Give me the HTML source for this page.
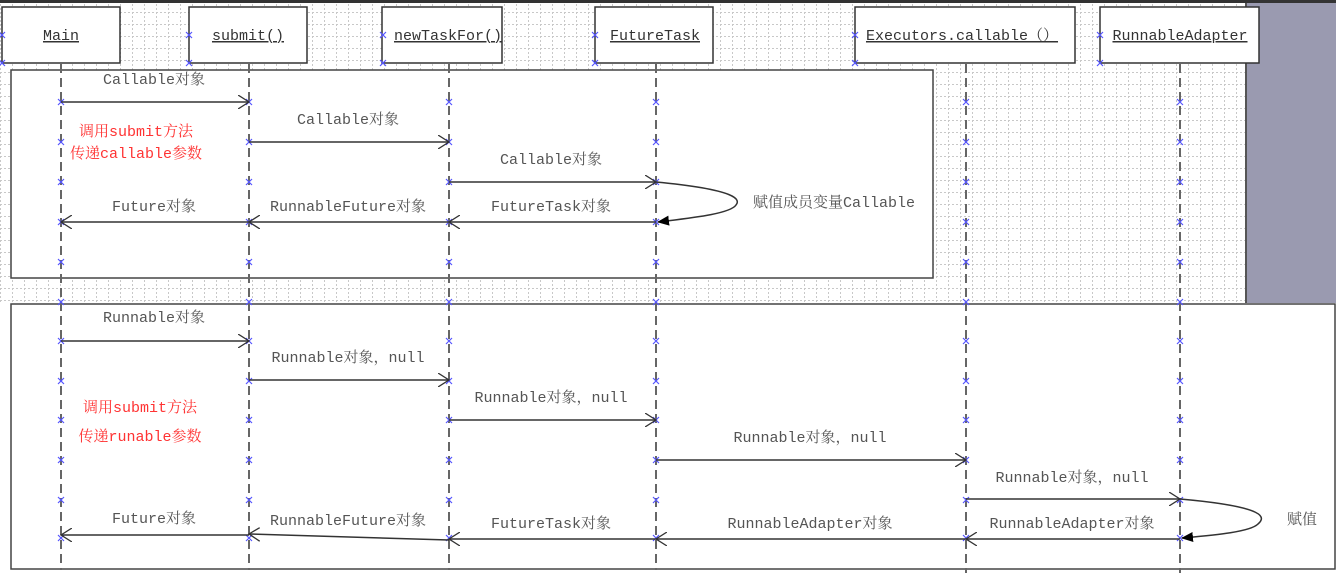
<!DOCTYPE html>
<html><head><meta charset="utf-8"><style>
html,body{margin:0;padding:0;background:#fff}
svg{display:block}
text{font-family:"Liberation Mono","Noto Serif CJK SC",monospace;font-size:15px;fill:#555}
.h{fill:#333;text-decoration:underline}
.r{fill:#f33}
</style></head><body>
<svg width="1336" height="573" viewBox="0 0 1336 573" xmlns="http://www.w3.org/2000/svg">
<defs>
<pattern id="g" width="12" height="12" patternUnits="userSpaceOnUse">
<path d="M0 0.5H12M0.5 0V12" stroke="#c8c8c8" stroke-width="1" stroke-dasharray="2,2" fill="none"/>
</pattern>
<g id="x"><path d="M-3 -3L3 3M3 -3L-3 3" stroke="#55f" stroke-width="1.2"/></g>
<marker id="oa" markerWidth="12" markerHeight="14" refX="11" refY="7" orient="auto" markerUnits="userSpaceOnUse"><path d="M0 0L11 7L0 14" fill="none" stroke="#333" stroke-width="1.3"/></marker>
<marker id="fa" markerWidth="12" markerHeight="10" refX="11" refY="5" orient="auto" markerUnits="userSpaceOnUse"><path d="M0 0L12 5L0 10Z" fill="#000"/></marker>
</defs>
<rect x="0" y="0" width="1336" height="573" fill="#fff"/>
<rect x="0" y="3" width="1246" height="300" fill="url(#g)"/>
<rect x="1246" y="3" width="90" height="300" fill="#9a9ab0"/>
<rect x="0" y="0" width="1336" height="3" fill="#333"/>
<line x1="1246" y1="3" x2="1246" y2="303" stroke="#555" stroke-width="2"/>
<!-- boxes -->
<rect x="11" y="70" width="922" height="208" fill="#fff" stroke="#444" stroke-width="1.5"/>
<rect x="11" y="304" width="1324" height="265" fill="#fff" stroke="#444" stroke-width="1.5"/>
<!-- headers -->
<g fill="#fff" stroke="#333" stroke-width="1.5">
<rect x="2" y="7" width="118" height="56"/>
<rect x="189" y="7" width="118" height="56"/>
<rect x="382" y="7" width="120" height="56"/>
<rect x="595" y="7" width="118" height="56"/>
<rect x="855" y="7" width="220" height="56"/>
<rect x="1100" y="7" width="159" height="56"/>
</g>
<text class="h" x="61" y="40" text-anchor="middle">Main</text>
<text class="h" x="248" y="40" text-anchor="middle">submit()</text>
<text class="h" x="448" y="40" text-anchor="middle">newTaskFor()</text>
<text class="h" x="655" y="40" text-anchor="middle">FutureTask</text>
<text class="h" x="962" y="40" text-anchor="middle">Executors.callable（）</text>
<text class="h" x="1180" y="40" text-anchor="middle">RunnableAdapter</text>
<!-- lifelines -->
<g stroke="#666" stroke-width="2" stroke-dasharray="9,5">
<line x1="61" y1="64" x2="61" y2="570"/>
<line x1="249" y1="64" x2="249" y2="570"/>
<line x1="449" y1="64" x2="449" y2="570"/>
<line x1="656" y1="64" x2="656" y2="570"/>
<line x1="966" y1="64" x2="966" y2="573"/>
<line x1="1180" y1="64" x2="1180" y2="573"/>
</g>
<!-- markers -->
<g>
<use href="#x" x="2" y="35"/><use href="#x" x="2" y="63"/>
<use href="#x" x="189" y="35"/><use href="#x" x="189" y="63"/>
<use href="#x" x="383" y="35"/><use href="#x" x="383" y="63"/>
<use href="#x" x="595" y="35"/><use href="#x" x="595" y="63"/>
<use href="#x" x="855" y="35"/><use href="#x" x="855" y="63"/>
<use href="#x" x="1100" y="35"/><use href="#x" x="1100" y="63"/>
</g>
<g id="col">
<use href="#x" x="61" y="102"/><use href="#x" x="61" y="142"/><use href="#x" x="61" y="182"/><use href="#x" x="61" y="222"/><use href="#x" x="61" y="262"/><use href="#x" x="61" y="302"/><use href="#x" x="61" y="341"/><use href="#x" x="61" y="381"/><use href="#x" x="61" y="420"/><use href="#x" x="61" y="460"/><use href="#x" x="61" y="500"/><use href="#x" x="61" y="538"/>
</g>
<use href="#col" x="188"/><use href="#col" x="388"/><use href="#col" x="595"/><use href="#col" x="905"/><use href="#col" x="1119"/>
<!-- arrows part 1 -->
<g stroke="#333" stroke-width="1.5" fill="none">
<line x1="61" y1="102" x2="249" y2="102" marker-end="url(#oa)"/>
<line x1="249" y1="142" x2="449" y2="142" marker-end="url(#oa)"/>
<line x1="449" y1="182" x2="656" y2="182" marker-end="url(#oa)"/>
<line x1="656" y1="222" x2="449" y2="222" marker-end="url(#oa)"/>
<line x1="449" y1="222" x2="249" y2="222" marker-end="url(#oa)"/>
<line x1="249" y1="222" x2="61" y2="222" marker-end="url(#oa)"/>
<path d="M656 182 C740 190 740 200 736 205 C730 214 690 218 658 222" marker-end="url(#fa)"/>
<!-- part 2 -->
<line x1="61" y1="341" x2="249" y2="341" marker-end="url(#oa)"/>
<line x1="249" y1="380" x2="449" y2="380" marker-end="url(#oa)"/>
<line x1="449" y1="420" x2="656" y2="420" marker-end="url(#oa)"/>
<line x1="656" y1="460" x2="966" y2="460" marker-end="url(#oa)"/>
<line x1="966" y1="499" x2="1180" y2="499" marker-end="url(#oa)"/>
<path d="M1180 499 C1270 507 1265 518 1258 524 C1250 532 1215 535 1182 538" marker-end="url(#fa)"/>
<line x1="1180" y1="539" x2="966" y2="539" marker-end="url(#oa)"/>
<line x1="966" y1="539" x2="656" y2="539" marker-end="url(#oa)"/>
<line x1="656" y1="539" x2="449" y2="539" marker-end="url(#oa)"/>
<line x1="449" y1="540" x2="249" y2="534" marker-end="url(#oa)"/>
<line x1="249" y1="535" x2="61" y2="535" marker-end="url(#oa)"/>
</g>
<!-- labels -->
<text x="154" y="84" text-anchor="middle">Callable对象</text>
<text x="348" y="124" text-anchor="middle">Callable对象</text>
<text x="551" y="164" text-anchor="middle">Callable对象</text>
<text x="154" y="211" text-anchor="middle">Future对象</text>
<text x="348" y="211" text-anchor="middle">RunnableFuture对象</text>
<text x="551" y="211" text-anchor="middle">FutureTask对象</text>
<text x="834" y="207" text-anchor="middle">赋值成员变量Callable</text>
<text class="r" x="136" y="136" text-anchor="middle">调用submit方法</text>
<text class="r" x="136" y="158" text-anchor="middle">传递callable参数</text>
<text x="154" y="322" text-anchor="middle">Runnable对象</text>
<text x="348" y="362" text-anchor="middle">Runnable对象，null</text>
<text x="551" y="402" text-anchor="middle">Runnable对象，null</text>
<text x="810" y="442" text-anchor="middle">Runnable对象，null</text>
<text x="1072" y="482" text-anchor="middle">Runnable对象，null</text>
<text x="1302" y="524" text-anchor="middle">赋值</text>
<text class="r" x="140" y="412" text-anchor="middle">调用submit方法</text>
<text class="r" x="140" y="441" text-anchor="middle">传递runable参数</text>
<text x="154" y="523" text-anchor="middle">Future对象</text>
<text x="348" y="525" text-anchor="middle">RunnableFuture对象</text>
<text x="551" y="528" text-anchor="middle">FutureTask对象</text>
<text x="810" y="528" text-anchor="middle">RunnableAdapter对象</text>
<text x="1072" y="528" text-anchor="middle">RunnableAdapter对象</text>
</svg>
</body></html>
